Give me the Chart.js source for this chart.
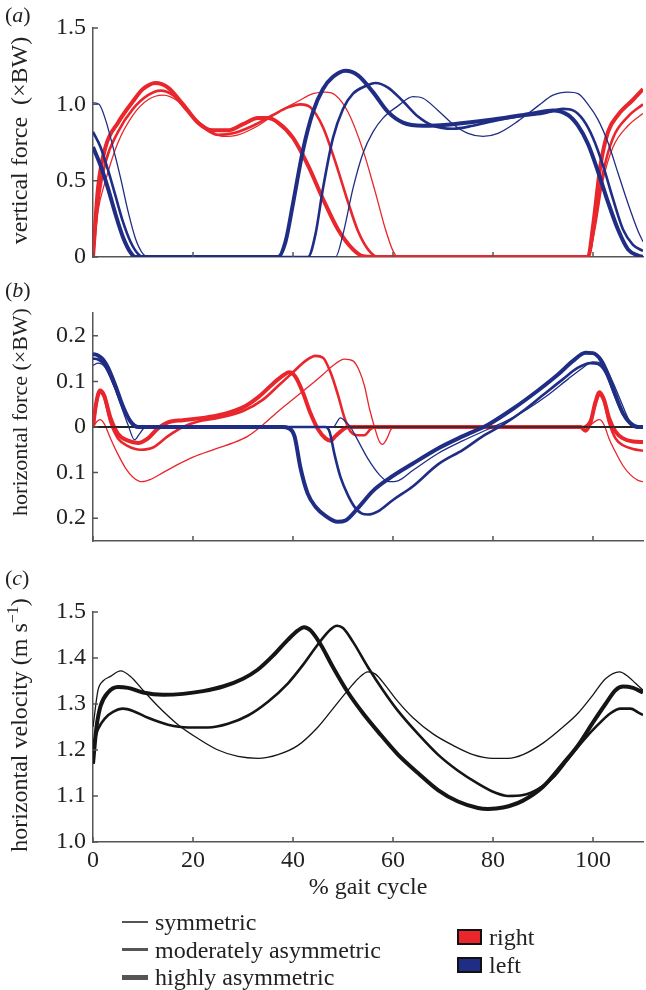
<!DOCTYPE html>
<html lang="en">
<head>
<meta charset="UTF-8">
<meta name="viewport" content="width=device-width, initial-scale=1.0">
<title>Ground reaction forces and velocity over the gait cycle</title>
<script src="https://cdn.jsdelivr.net/npm/chart.js"></script>
<style>
  body { margin: 0; background: #fff; color: #222; font-family: 'Liberation Serif', 'DejaVu Serif', serif; }
  #fig { position: relative; width: 646px; height: 990px; overflow: hidden; }
  #fig canvas { position: absolute; left: 0; }
  .tag { position: absolute; left: 5px; font-size: 22px; line-height: 24px; }
  .row { position: absolute; font-size: 24px; line-height: 28px; white-space: nowrap; }
  .stroke { position: absolute; left: 122px; width: 26px; background: #555; }
  .box { position: absolute; left: 457px; width: 21px; height: 12px; border: 2px solid #111; }
</style>
</head>
<body>
<div id="fig">
  <canvas id="vert" width="646" height="280" style="top:0"></canvas>
  <canvas id="horiz" width="646" height="280" style="top:280px"></canvas>
  <canvas id="vel" width="646" height="360" style="top:560px"></canvas>

  <div class="tag" style="top:3px">(<i>a</i>)</div>
  <div class="tag" style="top:278px">(<i>b</i>)</div>
  <div class="tag" style="top:566px">(<i>c</i>)</div>

  <div class="stroke" style="top:921px;height:1.5px"></div>
  <div class="stroke" style="top:948px;height:3px"></div>
  <div class="stroke" style="top:975px;height:4.5px"></div>
  <div class="row" style="left:155px;top:908px">symmetric</div>
  <div class="row" style="left:155px;top:936px">moderately asymmetric</div>
  <div class="row" style="left:155px;top:963px">highly asymmetric</div>
  <div class="box" style="top:929px;background:#e8262c"></div>
  <div class="box" style="top:957px;background:#1f2d84"></div>
  <div class="row" style="left:489px;top:923px">right</div>
  <div class="row" style="left:489px;top:951px">left</div>
</div>

<script>
  // axis ticks
  const xTicks = [0, 20, 40, 60, 80, 100];
  const vertTicks = [0, 0.5, 1.0, 1.5];
  const horizTicks = [-0.2, -0.1, 0, 0.1, 0.2];
  const velTicks = [1.0, 1.1, 1.2, 1.3, 1.4, 1.5];

  // (a) vertical force, [% gait cycle, ×BW]
  const vertRightSym = [[0,0],[1,0.3],[2.5,0.5],[5,0.75],[8,0.93],[11,1.03],[14,1.06],[17,1.02],[20,0.92],[23,0.84],[26,0.79],[29,0.8],[33,0.86],[37,0.95],[41,1.02],[44,1.07],[46.5,1.08],[48.5,1.06],[51,0.95],[54,0.7],[56.5,0.42],[58.5,0.18],[60,0.04],[61,0],[99,0],[100.5,0.2],[102,0.5],[104,0.72],[107,0.86],[110,0.94]];
  const vertRightMod = [[0,0],[1,0.35],[2.5,0.62],[5,0.82],[8,0.97],[11,1.06],[13.5,1.09],[16,1.06],[19,0.95],[22,0.85],[25,0.8],[28,0.81],[32,0.86],[36,0.93],[39,0.98],[41.5,1.0],[43.5,0.98],[46,0.85],[48.5,0.62],[51,0.36],[53,0.17],[55,0.05],[57,0],[99,0],[100.5,0.25],[102,0.55],[104,0.78],[107,0.92],[110,1.0]];
  const vertRightHigh = [[0,0],[1,0.45],[2.5,0.72],[5,0.88],[8,1.02],[10,1.1],[12.5,1.14],[15,1.11],[18,1.0],[21,0.88],[24,0.83],[27,0.83],[30,0.87],[33,0.91],[35,0.91],[37,0.88],[40,0.78],[43,0.6],[46,0.38],[49,0.18],[52,0.05],[54,0.005],[56,0],[99,0],[100,0.2],[101.5,0.6],[103,0.82],[105,0.93],[108,1.03],[110,1.1]];
  const vertLeftSym = [[0,1.01],[1.2,1.0],[2.5,0.9],[4,0.72],[5.5,0.52],[7,0.3],[8.5,0.12],[10,0.02],[11,0],[48.5,0],[50,0.15],[52,0.45],[54,0.68],[56,0.82],[58,0.91],[61,0.99],[64,1.05],[66,1.04],[69,0.96],[72,0.87],[75,0.81],[78,0.79],[81,0.81],[85,0.89],[89,0.99],[92,1.06],[95,1.08],[97,1.07],[99,1.0],[101,0.9],[103,0.75],[105,0.55],[107,0.35],[109,0.17],[110,0.1]];
  const vertLeftMod = [[0,0.82],[1.5,0.72],[3,0.57],[4.5,0.4],[6,0.23],[7.5,0.1],[9,0.02],[10,0],[43,0],[44.5,0.15],[46,0.45],[48,0.78],[50,0.97],[52,1.07],[54.5,1.12],[56.5,1.14],[59,1.11],[62,1.02],[65,0.92],[68,0.86],[72,0.84],[76,0.86],[80,0.89],[85,0.92],[90,0.94],[94,0.97],[96,0.96],[98,0.9],[100,0.78],[102,0.6],[104,0.38],[106,0.18],[108,0.08],[110,0.04]];
  const vertLeftHigh = [[0,0.72],[1.5,0.6],[3,0.45],[4.5,0.28],[6,0.13],[7.5,0.03],[8.5,0],[37,0],[38.5,0.1],[40,0.35],[42,0.7],[44,0.95],[46,1.1],[48,1.18],[50.5,1.22],[53,1.19],[56,1.08],[59,0.95],[62,0.88],[66,0.86],[72,0.87],[80,0.9],[88,0.94],[92,0.96],[95,0.93],[97,0.86],[99,0.74],[101,0.56],[103,0.36],[105,0.18],[107,0.05],[109,0.01],[110,0]];

  // (b) horizontal force, [% gait cycle, ×BW]
  const horizRightSym = [[0,0],[0.8,0.012],[1.4,0.016],[2.2,0.008],[3.5,-0.025],[5,-0.06],[6.5,-0.09],[8,-0.11],[9.8,-0.12],[11.5,-0.115],[14,-0.1],[17,-0.082],[20,-0.066],[24,-0.05],[28,-0.035],[31,-0.02],[34,0.005],[37.3,0.037],[40.5,0.065],[43.5,0.092],[46,0.115],[48,0.135],[50.3,0.149],[52,0.145],[53.2,0.125],[54.3,0.09],[55.3,0.04],[56.3,0],[57.2,-0.03],[57.9,-0.038],[58.8,-0.025],[59.6,-0.005],[60.5,0],[98,0],[99.5,0.005],[100.5,0.013],[101.3,0.016],[102.2,0.005],[103.2,-0.025],[104.5,-0.055],[106,-0.085],[107.5,-0.105],[109,-0.117],[110,-0.12]];
  const horizRightMod = [[0,0],[0.6,0.045],[1.4,0.075],[2.2,0.065],[3.5,0.01],[5,-0.025],[7,-0.042],[9.5,-0.05],[12,-0.045],[15,-0.02],[18,0],[21,0.012],[25,0.02],[30,0.035],[34,0.06],[37,0.09],[40,0.12],[42.5,0.145],[44.5,0.156],[46,0.152],[47.5,0.12],[49,0.07],[50.3,0.02],[51.5,-0.01],[53,-0.018],[54.3,-0.018],[55.5,-0.005],[56.5,0],[98,0],[99.5,0.015],[100.5,0.05],[101.3,0.07],[102.2,0.055],[103.2,0.01],[104.5,-0.025],[106,-0.04],[108,-0.048],[110,-0.052]];
  const horizRightHigh = [[0,0],[0.6,0.05],[1.4,0.08],[2.2,0.07],[3.5,0.02],[5,-0.015],[7,-0.03],[9,-0.035],[11,-0.025],[13,-0.003],[15,0.01],[18,0.015],[22,0.02],[26,0.028],[30,0.043],[33,0.065],[36,0.095],[38,0.113],[39.2,0.12],[40.5,0.11],[42,0.075],[43.5,0.03],[45,-0.005],[46.5,-0.025],[47.5,-0.03],[48.5,-0.02],[49.5,-0.01],[51,0],[97.5,0],[98.5,-0.008],[99.5,0.01],[100.5,0.055],[101.3,0.076],[102.2,0.06],[103.2,0.02],[104.5,-0.01],[106,-0.025],[108,-0.032],[110,-0.033]];
  const horizLeftSym = [[0,0.135],[1,0.14],[2.5,0.13],[4,0.095],[5.5,0.05],[7,0.005],[8.3,-0.028],[9.3,-0.015],[10.5,0],[48,0],[49.5,0.02],[50.5,0.012],[51.5,0],[53,-0.03],[55,-0.07],[57.3,-0.105],[59.2,-0.12],[61,-0.118],[64,-0.095],[69,-0.058],[74,-0.03],[79,-0.005],[83,0.015],[87,0.04],[91,0.07],[95,0.105],[98,0.13],[100,0.143],[101.5,0.14],[103,0.12],[104.5,0.085],[106,0.045],[107.5,0.01],[109,0],[110,0]];
  const horizLeftMod = [[0,0.15],[1,0.148],[2,0.14],[3,0.122],[4.5,0.085],[6,0.045],[7.5,0.013],[9,0],[46.5,0],[47.3,-0.01],[48.3,-0.06],[49.5,-0.11],[51,-0.15],[52.5,-0.178],[53.8,-0.19],[55,-0.192],[57,-0.185],[60,-0.16],[64,-0.13],[69,-0.082],[74,-0.05],[78,-0.02],[82,0.005],[86,0.035],[90,0.07],[94,0.105],[97,0.13],[99.5,0.14],[101,0.138],[102.5,0.12],[104,0.08],[105.5,0.04],[107,0.012],[108.5,0],[110,0]];
  const horizLeftHigh = [[0,0.16],[1,0.157],[2,0.148],[3,0.13],[4.5,0.09],[6,0.045],[7.5,0.012],[9,0],[38,0],[39,-0.002],[40.3,-0.02],[41.5,-0.09],[42.9,-0.145],[44.5,-0.175],[46.5,-0.195],[48.9,-0.208],[50.5,-0.205],[53.2,-0.175],[56,-0.14],[59.2,-0.113],[64,-0.08],[69,-0.047],[74,-0.02],[79,0.005],[84,0.04],[89,0.08],[93,0.115],[96,0.145],[98.5,0.163],[100,0.162],[101.5,0.148],[103,0.115],[104.5,0.07],[106,0.03],[107.5,0.008],[109,0],[110,0]];

  // (c) horizontal velocity, [% gait cycle, m/s]
  const velSym = [[0,1.25],[1,1.33],[2,1.35],[3.5,1.36],[5.5,1.372],[7.5,1.36],[10,1.33],[13,1.295],[17,1.255],[21,1.225],[25,1.2],[29,1.186],[33,1.182],[37,1.19],[41,1.21],[45,1.25],[48,1.29],[51,1.33],[53,1.355],[55,1.37],[56.5,1.365],[58.5,1.34],[61,1.305],[64,1.27],[68,1.235],[72,1.21],[76,1.19],[80,1.182],[83,1.182],[86,1.19],[90,1.215],[94,1.25],[97,1.28],[100,1.32],[102.5,1.355],[105.3,1.37],[107,1.36],[108.5,1.345],[110,1.33]];
  const velMod = [[0,1.21],[1,1.245],[2.5,1.27],[4,1.283],[6,1.29],[8,1.285],[11,1.27],[15,1.255],[19,1.249],[23,1.249],[27,1.257],[31,1.275],[35,1.305],[39,1.345],[42,1.385],[45,1.43],[47.5,1.462],[48.8,1.47],[50,1.465],[52,1.435],[55,1.38],[58,1.33],[61,1.285],[65,1.235],[69,1.19],[73,1.155],[77,1.127],[80.5,1.107],[83,1.1],[86,1.102],[89,1.115],[92,1.14],[95,1.18],[98,1.22],[101,1.255],[103.5,1.28],[105.5,1.29],[107.5,1.29],[109,1.282],[110,1.276]];
  const velHigh = [[0,1.17],[0.7,1.25],[1.5,1.295],[3,1.325],[5,1.337],[7,1.335],[10,1.325],[14,1.32],[18,1.322],[22,1.328],[26,1.338],[30,1.355],[33,1.375],[36,1.405],[39,1.44],[41,1.46],[42.2,1.467],[43.5,1.46],[45.5,1.43],[48,1.38],[51,1.325],[54,1.28],[57,1.24],[61,1.19],[65,1.15],[69,1.113],[73,1.088],[77,1.074],[79,1.072],[82,1.075],[86,1.09],[90,1.12],[94,1.17],[97,1.21],[100,1.26],[102.5,1.3],[104.5,1.33],[106,1.338],[108,1.335],[110,1.325]];

  const RED = '#e8262c', BLUE = '#1f2d84', BLACK = '#151515', AXIS = '#555';
  const SERIF = "'Liberation Serif', 'DejaVu Serif', serif";
  const widths = { sym: 1.3, mod: 2.6, high: 4 };

  Chart.defaults.font.family = SERIF;
  Chart.defaults.font.size = 24;
  Chart.defaults.color = '#222';

  function line(points, color, weight, side) {
    return {
      data: points.map(([x, y]) => ({ x, y })),
      borderColor: color,
      borderWidth: widths[weight],
      pointRadius: 0,
      fill: false,
      cubicInterpolationMode: 'monotone',
      order: side === 'right' ? 1 : 0,
      side
    };
  }

  // inward tick marks, rotated axis title, optional zero line
  function frame(cfg) {
    return {
      id: 'frame',
      afterDatasetDraw(chart, args) {
        if (!cfg.zero || chart.data.datasets[args.index].side !== 'right') return;
        const { ctx, chartArea: a, scales: { y } } = chart;
        const py = y.getPixelForValue(0);
        ctx.save();
        ctx.strokeStyle = '#222';
        ctx.lineWidth = 1.3;
        ctx.beginPath();
        ctx.moveTo(a.left, py);
        ctx.lineTo(a.right, py);
        ctx.stroke();
        ctx.restore();
      },
      afterDraw(chart) {
        const { ctx, chartArea: a, scales: { x, y } } = chart;
        ctx.save();
        ctx.strokeStyle = AXIS;
        ctx.lineWidth = 1.5;
        ctx.beginPath();
        x.ticks.forEach(t => {
          const px = x.getPixelForValue(t.value);
          ctx.moveTo(px, a.bottom);
          ctx.lineTo(px, a.bottom - 5);
        });
        y.ticks.forEach(t => {
          const py = y.getPixelForValue(t.value);
          ctx.moveTo(a.left, py);
          ctx.lineTo(a.left + 5, py);
        });
        ctx.stroke();

        ctx.translate(cfg.titleX, (a.top + a.bottom) / 2 + cfg.titleShift);
        ctx.rotate(-Math.PI / 2);
        ctx.fillStyle = '#222';
        ctx.textBaseline = 'alphabetic';
        ctx.textAlign = 'left';
        const size = cfg.size || 24;
        const big = size + 'px ' + SERIF, small = Math.round(size * 0.66) + 'px ' + SERIF;
        let w = 0;
        cfg.title.forEach(([s, sup]) => { ctx.font = sup ? small : big; w += ctx.measureText(s).width; });
        let cx = -w / 2;
        cfg.title.forEach(([s, sup]) => {
          ctx.font = sup ? small : big;
          ctx.fillText(s, cx, sup ? -9 : 0);
          cx += ctx.measureText(s).width;
        });
        ctx.restore();
      }
    };
  }

  function panel(id, datasets, p) {
    return new Chart(document.getElementById(id), {
      type: 'line',
      data: { datasets },
      options: {
        responsive: false,
        animation: false,
        devicePixelRatio: 1,
        events: [],
        layout: { padding: p.padding },
        plugins: { legend: { display: false }, tooltip: { enabled: false } },
        scales: {
          x: {
            type: 'linear', min: 0, max: 110,
            afterBuildTicks: s => { s.ticks = xTicks.map(v => ({ value: v })); },
            afterFit: s => { s.height = p.xLabels ? 62 : 5; s.paddingLeft = 0; s.paddingRight = 0; },
            grid: { display: false, drawTicks: false },
            border: { display: true, color: AXIS, width: 1.5 },
            ticks: { display: p.xLabels, padding: 4, maxRotation: 0, autoSkip: false },
            title: { display: p.xLabels, text: '% gait cycle', padding: { top: 0, bottom: 2 } }
          },
          y: {
            type: 'linear', min: p.min, max: p.max,
            afterBuildTicks: s => { s.ticks = p.ticks.map(v => ({ value: v })); },
            afterFit: s => { s.width = 93; s.paddingTop = 0; s.paddingBottom = 0; },
            grid: { display: false, drawTicks: false },
            border: { display: true, color: AXIS, width: 1.5 },
            ticks: { padding: 7, callback: p.fmt }
          }
        }
      },
      plugins: [frame(p.frame)]
    });
  }

  panel('vert', [
    line(vertLeftHigh, BLUE, 'high', 'left'),
    line(vertLeftMod, BLUE, 'mod', 'left'),
    line(vertLeftSym, BLUE, 'sym', 'left'),
    line(vertRightHigh, RED, 'high', 'right'),
    line(vertRightMod, RED, 'mod', 'right'),
    line(vertRightSym, RED, 'sym', 'right')
  ], {
    min: 0, max: 1.5, ticks: vertTicks,
    fmt: v => v === 0 ? '0' : v.toFixed(1),
    padding: { top: 28, right: 3, bottom: 18, left: 0 },
    xLabels: false,
    frame: { titleX: 27, titleShift: -2, title: [['vertical force  (\u00d7BW)', false]] }
  });

  panel('horiz', [
    line(horizLeftHigh, BLUE, 'high', 'left'),
    line(horizLeftMod, BLUE, 'mod', 'left'),
    line(horizLeftSym, BLUE, 'sym', 'left'),
    line(horizRightHigh, RED, 'high', 'right'),
    line(horizRightMod, RED, 'mod', 'right'),
    line(horizRightSym, RED, 'sym', 'right')
  ], {
    min: -0.25, max: 0.25, ticks: horizTicks,
    fmt: v => v === 0 ? '0' : Math.abs(v).toFixed(1),
    padding: { top: 33, right: 3, bottom: 14, left: 0 },
    xLabels: false,
    frame: { titleX: 27, titleShift: -15, size: 22, zero: true, title: [['horizontal force (\u00d7BW)', false]] }
  });

  panel('vel', [
    line(velHigh, BLACK, 'high', 'left'),
    line(velMod, BLACK, 'mod', 'left'),
    line(velSym, BLACK, 'sym', 'left')
  ], {
    min: 1.0, max: 1.5, ticks: velTicks,
    fmt: v => v.toFixed(1),
    padding: { top: 52, right: 3, bottom: 16, left: 0 },
    xLabels: true,
    frame: { titleX: 27, titleShift: -2, title: [['horizontal velocity (m s', false], ['\u22121', true], [')', false]] }
  });
</script>
</body>
</html>
